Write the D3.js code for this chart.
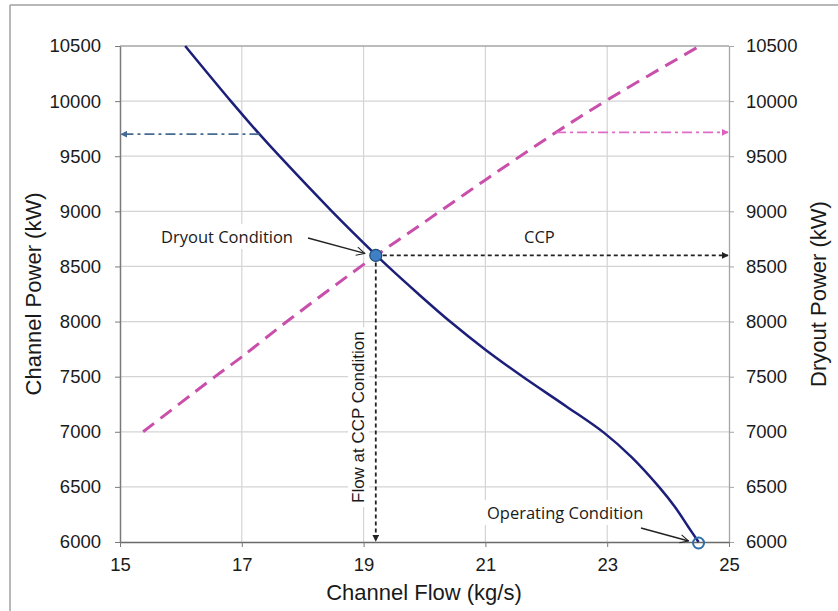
<!DOCTYPE HTML>
<html>
<meta charset="utf-8">
<title>Channel Power vs Channel Flow</title>
<script src="https://d3js.org/d3.v7.min.js"></script>
<head>
<style>
	body { margin: 0; background: #fff; }
	svg text { font-family: "Liberation Sans", Arial, sans-serif; fill: #1a1a1a; }
	.note { font-family: "Open Sans", sans-serif; font-size: 16.5px; }
</style>
</head>
<body>
<svg id="chart" width="838" height="611"></svg>

<script type="text/javascript">

/** DATA **/
	// channel power curve (blue, left axis)
	var channelFlow  = [16.07, 16.82, 17.29, 17.62, 18.48, 19.21, 19.4, 19.9, 20.42, 21.0, 21.62, 22.33, 22.95, 23.4, 23.85, 24.11, 24.33, 24.5];
	var channelPower = [10500, 10000, 9700, 9500, 9000, 8600, 8500, 8250, 8000, 7745, 7497, 7230, 6990, 6770, 6500, 6320, 6139, 6000];

	// dryout power line (pink dashed, right axis)
	var dryoutFlow  = [15.38, 16.56, 17.0, 17.74, 19.13, 19.89, 21.0, 22.16, 23.0, 24.52];
	var dryoutPower = [7000, 7500, 7680, 8000, 8570, 8860, 9285, 9717, 10010, 10500];

	var xTicks = [15, 17, 19, 21, 23, 25];
	var yTicks = [6000, 6500, 7000, 7500, 8000, 8500, 9000, 9500, 10000, 10500];

	// marked points
	var ccpPoint = {flow: 19.2, power: 8600};
	var opPoint  = {flow: 24.5, power: 6000};
	var leftArrowPower = 9700, leftArrowFlow = 17.29;
	var rightArrowPower = 9717, rightArrowFlow = 22.16;

/** SETUP **/
	var svg = d3.select("#chart");
	var pLeft = 120, pRight = 729, pTop = 46, pBottom = 542;

	var x = d3.scaleLinear().domain([15, 25]).range([pLeft, pRight]);
	var y = d3.scaleLinear().domain([6000, 10500]).range([pBottom, pTop]);

	// outer frame (top and left only visible)
	svg.append("line").attr("x1", 10).attr("x2", 838).attr("y1", 5).attr("y2", 5)
		.attr("stroke", "#a0a0a0").attr("stroke-width", 1.5);
	svg.append("line").attr("x1", 10).attr("x2", 10).attr("y1", 5).attr("y2", 611)
		.attr("stroke", "#a0a0a0").attr("stroke-width", 1.5);

	// arrow markers
	var defs = svg.append("defs");
	function tri(id, color) {
		defs.append("marker").attr("id", id)
			.attr("viewBox", "0 0 10 10").attr("refX", 9).attr("refY", 5)
			.attr("markerWidth", 7).attr("markerHeight", 7).attr("markerUnits", "userSpaceOnUse")
			.attr("orient", "auto")
			.append("path").attr("d", "M0,0L10,5L0,10z").attr("fill", color);
	}
	tri("triBlack", "#222");
	tri("triBlue", "#456b94");
	tri("triPink", "#dd5fc0");
	defs.append("marker").attr("id", "openHead")
		.attr("viewBox", "0 0 12 12").attr("refX", 11).attr("refY", 6)
		.attr("markerWidth", 10).attr("markerHeight", 10).attr("markerUnits", "userSpaceOnUse")
		.attr("orient", "auto")
		.append("path").attr("d", "M1,1L11,6L1,11").attr("fill", "none").attr("stroke", "#222").attr("stroke-width", 1.3);

	// gridlines
	svg.append("g").selectAll("line").data(yTicks.slice(1, -1)).enter().append("line")
		.attr("x1", pLeft).attr("x2", pRight)
		.attr("y1", function(d){ return y(d); }).attr("y2", function(d){ return y(d); })
		.attr("stroke", "#d4d4d4").attr("stroke-width", 1.2);
	svg.append("g").selectAll("line").data(xTicks.slice(1, -1)).enter().append("line")
		.attr("y1", pTop).attr("y2", pBottom)
		.attr("x1", function(d){ return x(d); }).attr("x2", function(d){ return x(d); })
		.attr("stroke", "#d4d4d4").attr("stroke-width", 1.2);

	// plot frame top edge
	svg.append("line").attr("x1", pLeft).attr("x2", pRight).attr("y1", pTop).attr("y2", pTop)
		.attr("stroke", "#a6a6a6").attr("stroke-width", 1.3);

	// axes
	var fmt = d3.format("d");
	var axisL = svg.append("g").attr("transform", "translate(" + pLeft + ",0)")
		.call(d3.axisLeft(y).tickValues(yTicks).tickFormat(fmt).tickSize(5).tickSizeOuter(0).tickPadding(14));
	var axisR = svg.append("g").attr("transform", "translate(" + pRight + ",0)")
		.call(d3.axisRight(y).tickValues(yTicks).tickFormat(fmt).tickSize(5).tickSizeOuter(0).tickPadding(12));
	var axisB = svg.append("g").attr("transform", "translate(0," + pBottom + ")")
		.call(d3.axisBottom(x).tickValues(xTicks).tickFormat(fmt).tickSize(5).tickSizeOuter(0).tickPadding(11));

	[axisL, axisR, axisB].forEach(function(a){
		a.selectAll("text").style("font-size", "18.5px").attr("fill", "#1a1a1a");
	});
	axisL.select(".domain").attr("stroke", "#7a7a7a").attr("stroke-width", 1.5);
	axisL.selectAll(".tick line").attr("stroke", "#7a7a7a");
	axisB.select(".domain").attr("stroke", "#6a6a6a").attr("stroke-width", 1.5);
	axisB.selectAll(".tick line").attr("stroke", "#7a7a7a");
	axisR.select(".domain").attr("stroke", "#a6a6a6").attr("stroke-width", 1.3);
	axisR.selectAll(".tick line").attr("stroke", "#a6a6a6");

	// axis titles
	svg.append("text").attr("transform", "translate(41,294) rotate(-90)")
		.attr("text-anchor", "middle").style("font-size", "22px").text("Channel Power (kW)");
	svg.append("text").attr("transform", "translate(826,294) rotate(-90)")
		.attr("text-anchor", "middle").style("font-size", "22px").text("Dryout Power (kW)");
	svg.append("text").attr("x", 424).attr("y", 600)
		.attr("text-anchor", "middle").style("font-size", "22px").text("Channel Flow (kg/s)");

/** LINES **/
	var blueLine = d3.line()
		.x(function(d, i){ return x(channelFlow[i]); })
		.y(function(d){ return y(d); })
		.curve(d3.curveCatmullRom.alpha(0.5));
	var pinkLine = d3.line()
		.x(function(d, i){ return x(dryoutFlow[i]); })
		.y(function(d){ return y(d); })
		.curve(d3.curveCatmullRom.alpha(0.5));

	svg.append("path").datum(dryoutPower).attr("d", pinkLine)
		.attr("fill", "none").attr("stroke", "#c94fab").attr("stroke-width", 3)
		.attr("stroke-dasharray", "14,8");

	svg.append("path").datum(channelPower).attr("d", blueLine)
		.attr("fill", "none").attr("stroke", "#1c1f7a").attr("stroke-width", 2.5);

/** ANNOTATIONS **/
	// dash-dot arrows to each axis
	svg.append("line")
		.attr("x1", x(leftArrowFlow)).attr("x2", pLeft + 1)
		.attr("y1", y(leftArrowPower)).attr("y2", y(leftArrowPower))
		.attr("stroke", "#456b94").attr("stroke-width", 1.8).attr("stroke-dasharray", "10,4,3,4")
		.attr("marker-end", "url(#triBlue)");
	svg.append("line")
		.attr("x1", x(rightArrowFlow)).attr("x2", pRight - 1)
		.attr("y1", y(rightArrowPower)).attr("y2", y(rightArrowPower))
		.attr("stroke", "#e06cc6").attr("stroke-width", 1.8).attr("stroke-dasharray", "10,4,3,4")
		.attr("marker-end", "url(#triPink)");

	// CCP dotted arrows
	svg.append("line")
		.attr("x1", x(ccpPoint.flow)).attr("x2", pRight - 1)
		.attr("y1", y(ccpPoint.power)).attr("y2", y(ccpPoint.power))
		.attr("stroke", "#222").attr("stroke-width", 1.8).attr("stroke-dasharray", "4,3")
		.attr("marker-end", "url(#triBlack)");
	svg.append("line")
		.attr("x1", x(ccpPoint.flow)).attr("x2", x(ccpPoint.flow))
		.attr("y1", y(ccpPoint.power)).attr("y2", pBottom - 1)
		.attr("stroke", "#222").attr("stroke-width", 1.8).attr("stroke-dasharray", "4,3")
		.attr("marker-end", "url(#triBlack)");

	// labels with white boxes
	function label(txt, tx, ty, rot) {
		var g = svg.append("g").attr("transform", "translate(" + tx + "," + ty + ")" + (rot ? " rotate(-90)" : ""));
		var t = g.append("text").attr("class", rot ? "" : "note").text(txt);
		if (rot) t.style("font-size", "17px");
		var b = t.node().getBBox();
		g.insert("rect", "text").attr("x", b.x - 4).attr("y", b.y - 1)
			.attr("width", b.width + 8).attr("height", b.height + 2).attr("fill", "#fff");
		return g;
	}
	label("Dryout Condition", 161, 243, false);
	label("CCP", 524, 243, false);
	label("Operating Condition", 487, 519, false);
	label("Flow at CCP Condition", 364, 503, true);

	// pointer arrows
	svg.append("line").attr("x1", 308).attr("y1", 238)
		.attr("x2", x(ccpPoint.flow) - 11).attr("y2", y(ccpPoint.power) - 2)
		.attr("stroke", "#222").attr("stroke-width", 1.3).attr("marker-end", "url(#openHead)");
	svg.append("line").attr("x1", 641).attr("y1", 528)
		.attr("x2", x(opPoint.flow) - 10).attr("y2", y(opPoint.power) - 1)
		.attr("stroke", "#222").attr("stroke-width", 1.3).attr("marker-end", "url(#openHead)");

	// points
	svg.append("circle").attr("cx", x(ccpPoint.flow)).attr("cy", y(ccpPoint.power)).attr("r", 6)
		.attr("fill", "#3f7fc4").attr("stroke", "#1f4e79").attr("stroke-width", 1.2);
	svg.append("circle").attr("cx", x(opPoint.flow)).attr("cy", y(opPoint.power) + 1).attr("r", 5.5)
		.attr("fill", "none").attr("stroke", "#2f6ea8").attr("stroke-width", 2);

</script>
</body>
</html>
